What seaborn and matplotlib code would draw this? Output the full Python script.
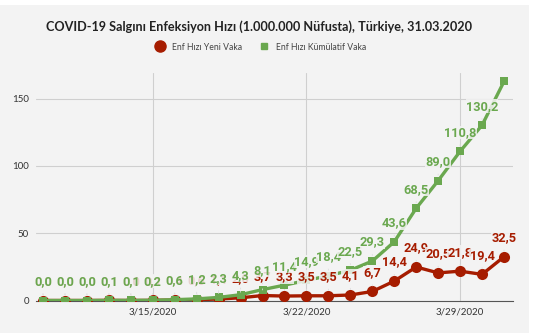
import numpy as np
import pandas as pd
import matplotlib
matplotlib.use("Agg")
import matplotlib.pyplot as plt
import seaborn as sns
from matplotlib.lines import Line2D
from matplotlib.patches import Rectangle

dates = ["3/10/2020", "3/11/2020", "3/12/2020", "3/13/2020", "3/14/2020", "3/15/2020",
         "3/16/2020", "3/17/2020", "3/18/2020", "3/19/2020", "3/20/2020", "3/21/2020",
         "3/22/2020", "3/23/2020", "3/24/2020", "3/25/2020", "3/26/2020", "3/27/2020",
         "3/28/2020", "3/29/2020", "3/30/2020", "3/31/2020"]
yeni_vaka = [0.0, 0.0, 0.0, 0.1, 0.0, 0.1, 0.4, 0.6, 1.1, 2.0, 3.7, 3.3,
             3.5, 3.5, 4.1, 6.7, 14.4, 24.9, 20.5, 21.8, 19.4, 32.5]
kumulatif_vaka = [0.0, 0.0, 0.0, 0.1, 0.1, 0.2, 0.6, 1.2, 2.3, 4.3, 8.1, 11.4,
                  14.9, 18.4, 22.5, 29.3, 43.6, 68.5, 89.0, 110.8, 130.2, 162.7]
tick_dates = ["3/15/2020", "3/22/2020", "3/29/2020"]
y_ticks = [0, 50, 100, 150]
series_names = ["Enf Hızı Yeni Vaka", "Enf Hızı Kümülatif Vaka"]
title = "COVID-19 Salgını Enfeksiyon Hızı (1.000.000 Nüfusta), Türkiye, 31.03.2020"

RED = "#a61c00"
GREEN = "#6aa84f"
BG = "#f3f3f3"

sns.set_theme(style="white")
plt.rcParams["font.family"] = ["Lato", "DejaVu Sans"]

df = pd.DataFrame({"idx": np.arange(len(dates)), "date": dates,
                   "yeni": yeni_vaka, "kum": kumulatif_vaka})

fig = plt.figure(figsize=(5.34, 3.33), dpi=100, facecolor="white")
fig.patches.append(Rectangle((0, 0), 529 / 534, 328 / 333, transform=fig.transFigure,
                             facecolor=BG, edgecolor="none", zorder=-10))
ax = fig.add_axes([36 / 534, (333 - 300.5) / 333, (513 - 36) / 534, (300.5 - 73) / 333])
ax.set_facecolor(BG)

sns.lineplot(data=df, x="idx", y="yeni", ax=ax, color=RED, lw=2.4, marker="o",
             markersize=8, markeredgecolor=RED, markeredgewidth=0, zorder=3)
sns.lineplot(data=df, x="idx", y="kum", ax=ax, color=GREEN, lw=2.4, marker="s",
             markersize=6, markeredgecolor=GREEN, markeredgewidth=0, zorder=4)

ax.set_xlim(-0.32, len(dates) - 1 + 0.41)
ax.set_ylim(0, 169)

xt = [dates.index(d) for d in tick_dates]
ax.set_xticks(xt)
ax.set_xticklabels(tick_dates, fontsize=7, color="#333333")
ax.set_yticks(y_ticks)
ax.set_yticklabels([str(v) for v in y_ticks], fontsize=7, color="#333333")
ax.tick_params(axis="both", length=0, pad=5)
ax.grid(True, color="#cfcfcf", lw=0.8)
ax.set_axisbelow(True)
for s in ["top", "right", "left"]:
    ax.spines[s].set_visible(False)
ax.spines["bottom"].set_color("#555555")
ax.spines["bottom"].set_linewidth(0.8)
ax.set_xlabel("")
ax.set_ylabel("")

def fmt(v):
    return f"{v:.1f}".replace(".", ",")

def label(i, v, color, z):
    ax.annotate(fmt(v), (i, v), xytext=(0, 13.7), textcoords="offset points",
                ha="center", va="center", fontsize=9.2, fontweight="bold",
                color=color, family=["Roboto", "DejaVu Sans"], zorder=z,
                bbox=dict(boxstyle="square,pad=0.02", facecolor=BG, edgecolor="none", alpha=0.85),
                arrowprops=dict(arrowstyle="-", color="#dddddd", lw=0.6, shrinkA=4, shrinkB=4))

for i, v in enumerate(yeni_vaka):
    label(i, v, RED, 5)
for i, v in enumerate(kumulatif_vaka[:-1]):
    label(i, v, GREEN, 6)

fig.text(259 / 534, 1 - 27 / 333, title, ha="center", va="center",
         fontsize=9.1, fontweight="bold", color="#222222")

handles = [Line2D([], [], ls="none", marker="o", markersize=8, color=RED),
           Line2D([], [], ls="none", marker="s", markersize=5, color=GREEN)]
fig.legend(handles, series_names, loc="center", bbox_to_anchor=(259 / 534, 1 - 47 / 333),
           ncol=2, frameon=False, fontsize=6.2, handletextpad=0.4, columnspacing=1.5,
           labelcolor="#444444")

fig.savefig("out.png", dpi=100, facecolor="white")
